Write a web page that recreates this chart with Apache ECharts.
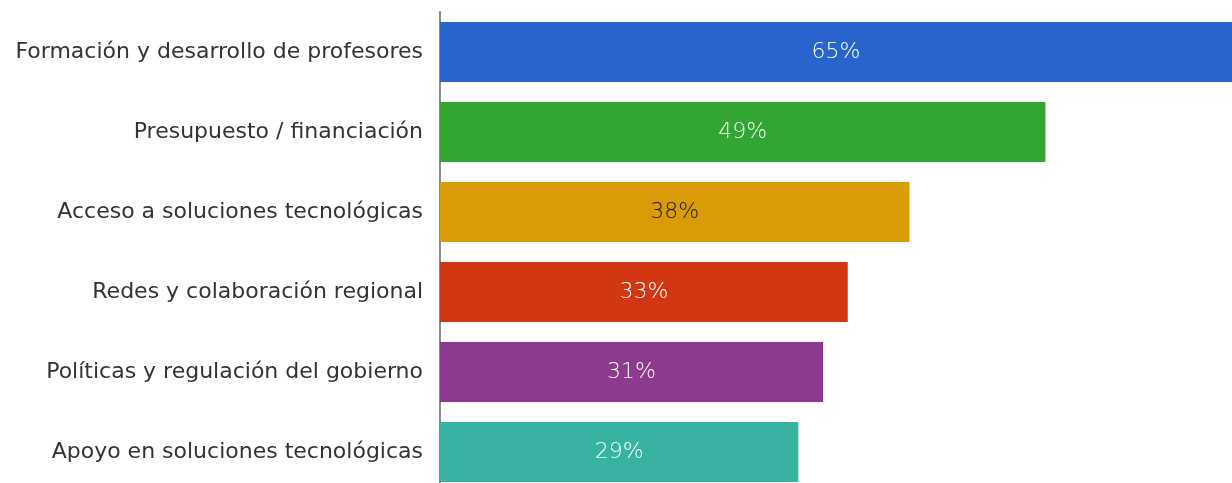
<!DOCTYPE html>
<html><head><meta charset="utf-8">
<script src="https://cdn.jsdelivr.net/npm/echarts@6/dist/echarts.min.js"></script>
<style>html,body{margin:0;padding:0;background:#fff}#c{width:1232px;height:483px}</style>
</head><body><div id="c"></div>
<script>
const categories = ["Formación y desarrollo de profesores","Presupuesto / financiación","Acceso a soluciones tecnológicas","Redes y colaboración regional","Políticas y regulación del gobierno","Apoyo en soluciones tecnológicas"];
const values = [65, 49, 38, 33, 31, 29];
const colors = ["#2864cc","#33a532","#d99c08","#d03712","#8b3a8e","#38b3a2"];
const labelColors = ["#ffffff","#ffffff","#222222","#ffffff","#ffffff","#ffffff"];

const chart = echarts.init(document.getElementById('c'));
chart.setOption({
  animation: false,
  grid: {left: 440, width: 792, top: 12, height: 480, containLabel: false, outerBoundsMode: 'none'},
  xAxis: {type: 'value', min: 0, max: 64.1, show: false},
  yAxis: {
    type: 'category', data: categories, inverse: true,
    axisLine: {show: true, lineStyle: {color: '#8a8a8a', width: 2}},
    axisTick: {show: false},
    axisLabel: {color: '#333', fontSize: 22, fontFamily: 'DejaVu Sans', margin: 17}
  },
  series: [{
    type: 'bar', barWidth: 60,
    data: values.map((v, i) => ({value: v, itemStyle: {color: colors[i]},
      label: {color: labelColors[i]}})),
    label: {show: true, position: 'inside', formatter: '{c}%', fontSize: 22,
      fontFamily: 'DejaVu Sans', fontWeight: 200}
  }]
});
</script></body></html>
